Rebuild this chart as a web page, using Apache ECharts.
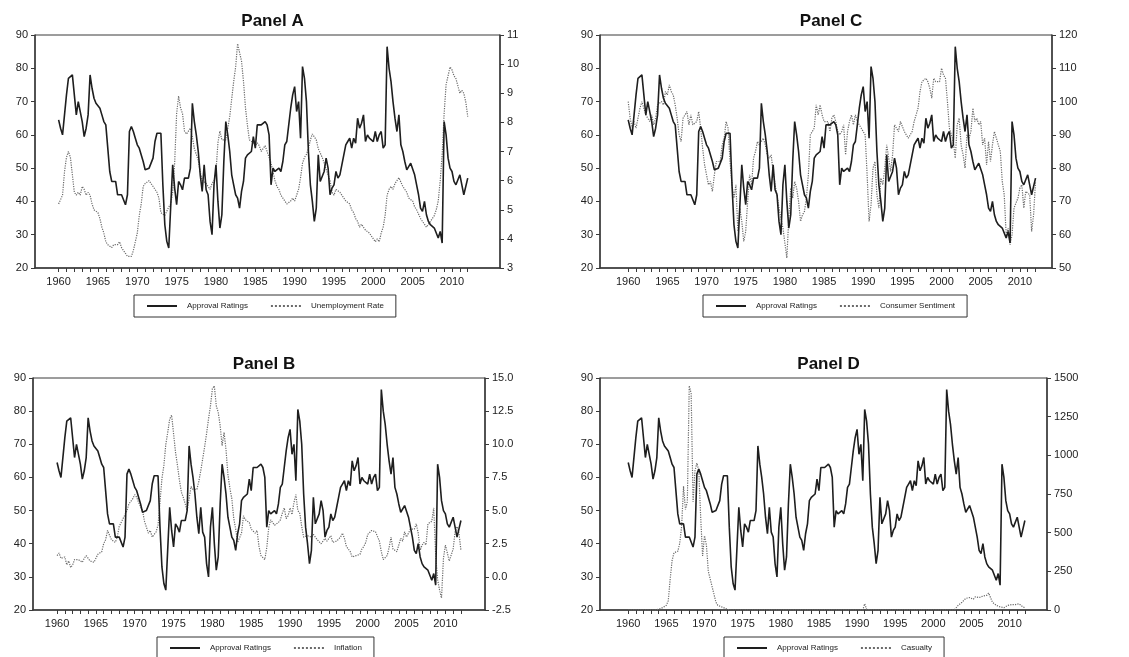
<!DOCTYPE html>
<html>
<head>
<meta charset="utf-8">
<script src="https://cdn.jsdelivr.net/npm/echarts@6/dist/echarts.min.js"></script>
<style>
  html, body { margin: 0; padding: 0; background: #fff; }
  #chart { width: 1129px; height: 657px; }
</style>
</head>
<body>
<div id="chart"></div>
<script>
// Quarterly observations, first quarter of 1960 through first quarter of 2012
const startYear = 1960;

// Presidential approval (%)
const approval = [
  64.5, 62, 60, 60.5,   72, 77, 76.5, 78,   78, 66, 70, 70,   64, 59.5, 62, 66,
  78, 74, 71, 69.5,     69, 68, 66, 64,     63, 56, 49, 46,   45.5, 46, 42, 42,
  42, 41.5, 39, 42,     61, 62.5, 61, 59,   57, 56, 55.5, 52, 49.5, 49, 50, 50,
  53, 58, 60.5, 61,     60.5, 45, 33, 28,   26, 26, 51, 44,   39, 46, 45, 43.5,
  47, 46.5, 47, 50,     69.5, 64, 60, 55,   48, 43, 51, 43.5, 42, 34, 30, 45,
  51, 40, 32, 36,       52, 64, 60, 55,     48, 45, 42, 41,   38, 43, 46, 53,
  54, 54, 55, 59.5,     56, 63, 63, 63,     63, 64, 63, 60,   45, 50, 49, 49.5,
  50, 49, 52, 57,       58, 63, 68, 72,     74.5, 67, 70, 59, 80.5, 77, 70, 55,
  45, 40, 34, 38,       54, 46, 46, 49,     53, 50, 42, 44,   45, 49, 47, 48,
  51, 54, 57, 58,       59, 56, 59, 57.5,   65, 62, 63.5, 66, 58, 60, 59, 58.5,
  58, 61, 58, 60,       61, 56, 57, 86.5,   80, 76, 70, 65,   61, 66, 57, 55,
  52, 49.5, 50, 51.5,   51, 48, 45, 42,     38, 37, 40, 36,   34, 33, 33, 32,
  32, 29, 31, 27.5,     64, 60, 53, 50,     49, 46, 45, 45.5, 48, 45, 42, 42,
  47
];

// Unemployment rate (%)
const unemployment = [
  5.2, 5.2, 5.5, 6.3,  6.8, 7.0, 6.8, 6.2,  5.6, 5.5, 5.6, 5.5,  5.8, 5.7, 5.5, 5.6,
  5.5, 5.2, 5.0, 5.0,  4.9, 4.7, 4.4, 4.2,  3.9, 3.8, 3.8, 3.7,  3.8, 3.8, 3.8, 3.9,
  3.7, 3.6, 3.5, 3.4,  3.4, 3.4, 3.6, 3.6,  4.2, 4.8, 5.2, 5.8,  5.9, 5.9, 6.0, 6.0,
  5.8, 5.7, 5.6, 5.4,  4.9, 4.9, 4.8, 4.8,  5.1, 5.2, 5.6, 6.6,  8.3, 8.9, 8.5, 8.3,
  7.7, 7.6, 7.7, 7.8,  7.5, 7.1, 6.9, 6.7,  6.3, 6.0, 6.0, 5.9,  5.9, 5.7, 5.9, 6.0,
  6.3, 7.3, 7.7, 7.4,  7.4, 7.4, 7.4, 8.2,  8.8, 9.4, 9.9, 10.7, 10.4, 10.1, 9.4, 8.5,
  7.9, 7.4, 7.4, 7.3,  7.2, 7.3, 7.2, 7.0,  7.0, 7.2, 7.0, 6.8,  6.6, 6.3, 6.0, 5.8,
  5.7, 5.5, 5.5, 5.3,  5.2, 5.2, 5.3, 5.4,  5.3, 5.3, 5.7, 6.1,  6.6, 6.8, 6.9, 7.1,
  7.4, 7.6, 7.6, 7.4,  7.1, 7.1, 6.8, 6.6,  6.6, 6.2, 6.0, 5.6,  5.5, 5.7, 5.7, 5.6,
  5.5, 5.5, 5.3, 5.3,  5.2, 5.0, 4.9, 4.7,  4.6, 4.4, 4.5, 4.4,  4.3, 4.3, 4.2, 4.1,
  4.0, 3.9, 4.0, 3.9,  4.2, 4.4, 4.8, 5.5,  5.7, 5.8, 5.7, 5.9,  5.9, 6.1, 6.1, 5.8,
  5.7, 5.6, 5.4, 5.4,  5.3, 5.1, 5.0, 5.0,  4.7, 4.6, 4.6, 4.4,  4.5, 4.5, 4.7, 4.8,
  5.0, 5.3, 6.0, 6.9,  8.3, 9.3, 9.6, 9.9,  9.8, 9.6, 9.5, 9.5,  9.0, 9.1, 9.0, 8.7,
  8.2
];

// Inflation (%)
const inflation = [
  1.6, 1.8, 1.4, 1.4,  1.5, 0.9, 1.2, 0.7,  0.9, 1.3, 1.2, 1.3,  1.2, 1.1, 1.4, 1.6,
  1.6, 1.2, 1.2, 1.1,  1.2, 1.7, 1.7, 1.9,  2.5, 2.8, 3.5, 3.6,  2.8, 2.7, 2.6, 3.0,
  3.8, 4.1, 4.4, 4.7,  5.0, 5.5, 5.7, 5.9,  6.2, 6.0, 5.6, 5.6,  5.0, 4.2, 4.3, 3.3,
  3.5, 3.0, 2.9, 3.4,  3.9, 5.6, 7.4, 8.4,  10.0, 10.9, 11.9, 12.2, 10.8, 9.4, 8.4, 7.3,
  6.4, 6.0, 5.5, 5.0,  5.9, 6.8, 6.6, 6.5,  6.6, 7.2, 8.0, 8.9,  9.8, 10.8, 11.9, 12.9,
  14.2, 14.4, 12.9, 12.4, 11.4, 9.9, 10.9, 9.6, 7.7, 6.7, 5.9, 4.4, 3.6, 2.6, 2.6, 3.3,
  4.6, 4.3, 4.2, 4.1,  3.6, 3.7, 3.3, 3.5,  2.3, 1.6, 1.6, 1.3,  2.2, 3.7, 4.3, 4.4,
  3.9, 3.9, 4.1, 4.3,  4.8, 5.2, 4.4, 4.6,  5.2, 4.7, 5.6, 6.2,  5.0, 4.8, 3.8, 3.0,
  2.9, 3.1, 3.1, 3.0,  3.2, 3.1, 2.8, 2.7,  2.5, 2.4, 2.9, 2.7,  2.9, 3.1, 2.6, 2.6,
  2.7, 2.8, 3.0, 3.3,  2.9, 2.3, 2.2, 1.9,  1.5, 1.6, 1.6, 1.6,  1.7, 2.1, 2.3, 2.6,
  3.2, 3.3, 3.5, 3.4,  3.4, 3.3, 2.7, 1.9,  1.3, 1.2, 1.6, 2.2,  3.0, 2.1, 2.2, 1.9,
  1.8, 2.9, 2.7, 3.4,  3.0, 3.0, 3.6, 3.7,  3.6, 4.0, 3.3, 2.0,  2.4, 2.6, 2.4, 4.0,
  4.1, 4.2, 5.2, 1.6,  -0.2, -1.0, -1.6, 1.4, 2.4, 1.8, 1.2, 1.2, 2.1, 3.4, 3.8, 3.3,
  2.0
];

// Consumer sentiment index
const sentiment = [
  100, 95, 92, 94,   92, 95, 98, 100,   100, 96, 96, 94,   96, 93, 95, 99,
  99, 100, 99, 103,  102, 105, 103, 102, 99, 95, 90, 88,   95, 96, 97, 93,
  96, 93, 93, 94,    97, 92, 86, 81,    78, 75, 76, 73,    78, 82, 82, 82,
  87, 89, 94, 92,    82, 75, 71, 75,    61, 68, 64, 58,    61, 70, 78, 75,
  83, 85, 88, 87,    88, 89, 87, 84,    83, 84, 79, 75,    72, 68, 65, 62,
  62, 53, 65, 74,    71, 76, 74, 70,    64, 66, 67, 71,    78, 90, 90, 92,
  99, 96, 99, 96,    94, 94, 94, 91,    95, 96, 94, 91,    90, 91, 93, 84,
  91, 94, 96, 93,    96, 94, 94, 92,    91, 90, 78, 64,    69, 80, 82, 72,
  68, 77, 75, 80,    87, 83, 79, 84,    93, 92, 91, 94,    94, 91, 90, 89,
  89, 91, 94, 96,    98, 103, 106, 106, 107, 106, 104, 101, 107, 106, 106, 106,
  110, 108, 107, 100, 92, 90, 88, 83,   93, 95, 87, 84,    80, 90, 89, 91,
  98, 94, 95, 93,    94, 87, 89, 81,    88, 82, 87, 91,    91, 87, 85, 76,
  72, 60, 62, 57,    60, 68, 68, 71,    74, 75, 68, 73,    73, 72, 61, 66,
  76
];

// Military casualties
const casualty = [
  0, 0, 0, 0,        0, 0, 0, 0,        0, 0, 0, 0,        0, 0, 0, 5,
  5, 10, 15, 20,     30, 60, 200, 320,  370, 375, 380, 430, 540, 800, 650, 700,
  1450, 1400, 700, 900, 950, 900, 600, 350, 480, 420, 250, 200, 210, 100, 50, 30,
  30, 20, 15, 10,    0, 0, 0, 0,        0, 0, 0, 0,        0, 0, 0, 0,
  0, 0, 0, 0,        0, 0, 0, 0,        0, 0, 0, 0,        0, 0, 0, 0,
  0, 0, 0, 0,        0, 0, 0, 0,        0, 0, 0, 0,        0, 0, 0, 0,
  0, 0, 0, 0,        0, 0, 0, 0,        0, 0, 0, 0,        0, 0, 0, 0,
  0, 0, 0, 0,        0, 0, 0, 0,        0, 0, 0, 0,        40, 5, 0, 0,
  0, 0, 0, 0,        0, 0, 0, 0,        0, 0, 0, 0,        0, 0, 0, 0,
  0, 0, 0, 0,        0, 0, 0, 0,        0, 0, 0, 0,        0, 0, 0, 0,
  0, 0, 0, 0,        0, 0, 0, 0,        0, 0, 0, 0,        10, 30, 25, 50,
  60, 75, 70, 80,    80, 70, 85, 90,    80, 75, 90, 100,   95, 110, 80, 50,
  40, 30, 25, 20,    20, 15, 25, 30,    25, 35, 40, 35,    30, 40, 30, 20,
  15
];

const yearLabels = [1960, 1965, 1970, 1975, 1980, 1985, 1990, 1995, 2000, 2005, 2010];
const yearTicks = [
  1960, 1961, 1962, 1963, 1964, 1965, 1966, 1967, 1968, 1969,
  1970, 1971, 1972, 1973, 1974, 1975, 1976, 1977, 1978, 1979,
  1980, 1981, 1982, 1983, 1984, 1985, 1986, 1987, 1988, 1989,
  1990, 1991, 1992, 1993, 1994, 1995, 1996, 1997, 1998, 1999,
  2000, 2001, 2002, 2003, 2004, 2005, 2006, 2007, 2008, 2009,
  2010, 2011, 2012
];

const toPairs = arr => arr.map((v, i) => [startYear + i / 4, v]);

const FONT = '"Liberation Sans", Arial, sans-serif';
const INK = '#1e1e1e';
const AXIS = '#3a3a3a';
const plain = v => String(v);

const panels = [
  { title: 'Panel A', grid: { left: 35, top: 35, width: 465, height: 233 }, xMin: 1957, xMax: 2016.1,
    other: 'Unemployment Rate', otherData: unemployment,
    right: { min: 3, max: 11, interval: 1, fmt: plain }, legend: { left: 134, top: 295 } },
  { title: 'Panel C', grid: { left: 600, top: 35, width: 452, height: 233 }, xMin: 1956.4, xMax: 2014.1,
    other: 'Consumer Sentiment', otherData: sentiment,
    right: { min: 50, max: 120, interval: 10, fmt: plain }, legend: { left: 703, top: 295 } },
  { title: 'Panel B', grid: { left: 33, top: 378, width: 452, height: 232 }, xMin: 1956.9, xMax: 2015.1,
    other: 'Inflation', otherData: inflation,
    right: { min: -2.5, max: 15, interval: 2.5, fmt: v => v.toFixed(1) }, legend: { left: 157, top: 637 } },
  { title: 'Panel D', grid: { left: 600, top: 378, width: 447, height: 232 }, xMin: 1956.3, xMax: 2014.9,
    other: 'Casualty', otherData: casualty,
    right: { min: 0, max: 1500, interval: 250, fmt: plain }, legend: { left: 724, top: 637 } }
];

const option = {
  animation: false,
  backgroundColor: '#ffffff',
  textStyle: { fontFamily: FONT },
  title: [], grid: [], xAxis: [], yAxis: [], legend: [], series: []
};

panels.forEach((p, k) => {
  const g = p.grid;
  option.title.push({
    text: p.title,
    left: g.left + g.width / 2, top: g.top - 27, textAlign: 'center',
    textStyle: { fontFamily: FONT, fontSize: 17, fontWeight: 'bold', color: '#111' }
  });
  option.grid.push({
    left: g.left, top: g.top, width: g.width, height: g.height,
    show: true, borderColor: AXIS, borderWidth: 1, backgroundColor: 'transparent'
  });
  option.xAxis.push({
    type: 'value', gridIndex: k, min: p.xMin, max: p.xMax,
    axisLine: { show: true, onZero: false, lineStyle: { color: AXIS, width: 1.5 } },
    axisTick: { show: true, inside: false, length: 4, customValues: yearTicks, lineStyle: { color: AXIS, width: 1 } },
    axisLabel: { customValues: yearLabels, formatter: plain, color: '#222', fontSize: 11, margin: 8, fontFamily: FONT },
    splitLine: { show: false }
  });
  option.yAxis.push({
    type: 'value', gridIndex: k, position: 'left', min: 20, max: 90, interval: 10,
    axisLine: { show: true, lineStyle: { color: AXIS, width: 1.5 } },
    axisTick: { show: true, length: 4, lineStyle: { color: AXIS } },
    axisLabel: { color: '#222', fontSize: 11, margin: 7, fontFamily: FONT },
    splitLine: { show: false }
  });
  option.yAxis.push({
    type: 'value', gridIndex: k, position: 'right',
    min: p.right.min, max: p.right.max, interval: p.right.interval,
    axisLine: { show: true, lineStyle: { color: AXIS, width: 1.5 } },
    axisTick: { show: true, length: 4, lineStyle: { color: AXIS } },
    axisLabel: { color: '#222', fontSize: 11, margin: 7, fontFamily: FONT, formatter: p.right.fmt },
    splitLine: { show: false }
  });
  option.legend.push({
    left: p.legend.left, top: p.legend.top,
    data: ['Approval Ratings', p.other],
    orient: 'horizontal',
    itemWidth: 30, itemHeight: 8, itemGap: 22,
    padding: [7, 12, 7, 12],
    borderColor: '#333', borderWidth: 1, borderRadius: 0,
    selectedMode: false,
    itemStyle: { opacity: 0 },
    textStyle: { fontFamily: FONT, fontSize: 8, color: '#222', padding: [0, 0, 0, 5] }
  });
  option.series.push({
    name: 'Approval Ratings', type: 'line', xAxisIndex: k, yAxisIndex: 2 * k,
    data: toPairs(approval), showSymbol: false, symbol: 'none',
    lineStyle: { color: INK, width: 1.6 }, itemStyle: { color: INK }, z: 3
  });
  option.series.push({
    name: p.other, type: 'line', xAxisIndex: k, yAxisIndex: 2 * k + 1,
    data: toPairs(p.otherData), showSymbol: false, symbol: 'none',
    lineStyle: { color: '#6a6a6a', width: 1.2, type: 'dotted' }, itemStyle: { color: '#6a6a6a' }, z: 2
  });
});

const chart = echarts.init(document.getElementById('chart'), null, { renderer: 'canvas' });
chart.setOption(option);
</script>
</body>
</html>
